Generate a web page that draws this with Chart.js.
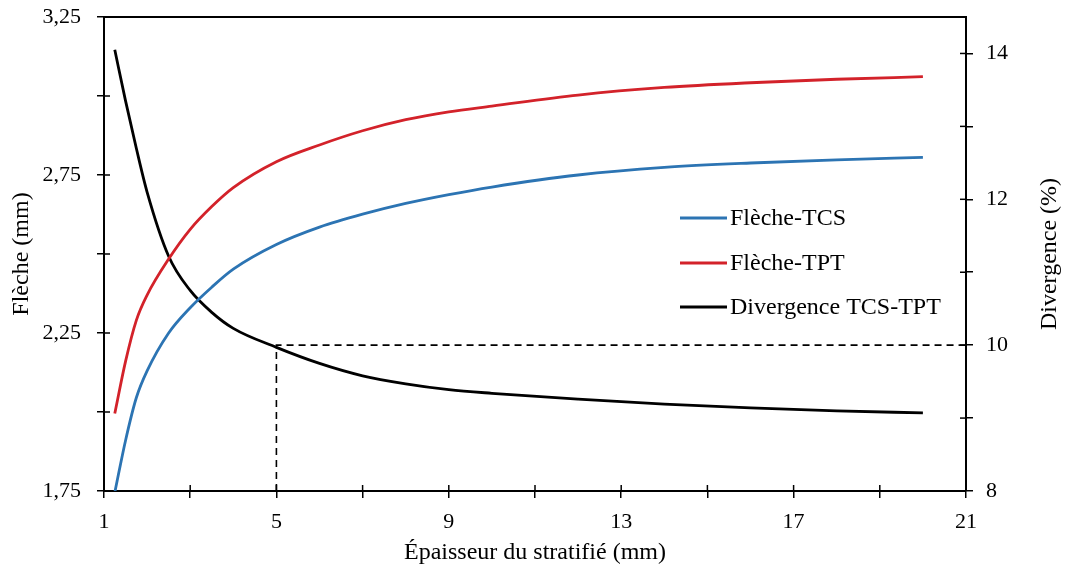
<!DOCTYPE html>
<html><head><meta charset="utf-8">
<script src="https://cdn.jsdelivr.net/npm/chart.js@4.4.1/dist/chart.umd.min.js"></script>
<style>html,body{margin:0;padding:0;background:#fff;}</style>
</head><body>
<canvas id="c" width="1068" height="570"></canvas>
<script>
// ---- data ----
const thickness  = [1.25, 1.5, 1.75, 2, 2.5, 3, 3.5, 4, 5, 6, 7, 8, 9, 10, 12, 14, 16, 18, 20];
const flecheTCS  = [1.745, 1.91, 2.045, 2.13, 2.25, 2.33, 2.395, 2.452, 2.53, 2.585, 2.626, 2.66, 2.688, 2.712, 2.75, 2.774, 2.788, 2.798, 2.806];
const flecheTPT  = [1.995, 2.16, 2.29, 2.37, 2.484, 2.578, 2.65, 2.71, 2.792, 2.845, 2.89, 2.925, 2.95, 2.968, 3.003, 3.027, 3.042, 3.053, 3.061];
const divergence = [14.05, 13.35, 12.7, 12.1, 11.22, 10.75, 10.45, 10.23, 9.97, 9.75, 9.58, 9.47, 9.39, 9.34, 9.26, 9.19, 9.14, 9.10, 9.07];
const refLineX = [5, 5, 21];
const refLineY = [8, 10, 10];

const seriesNames = ['Flèche-TCS', 'Flèche-TPT', 'Divergence TCS-TPT'];
const xTitle = 'Épaisseur du stratifié (mm)';
const yLeftTitle = 'Flèche (mm)';
const yRightTitle = 'Divergence (%)';

const xTicks = [1, 3, 5, 7, 9, 11, 13, 15, 17, 19, 21];
const xTickLabels = ['1', '', '5', '', '9', '', '13', '', '17', '', '21'];
const leftTicks = [1.75, 2, 2.25, 2.5, 2.75, 3, 3.25];
const leftTickLabels = ['1,75', '', '2,25', '', '2,75', '', '3,25'];
const rightTicks = [8, 9, 10, 11, 12, 13, 14];
const rightTickLabels = ['8', '', '10', '', '12', '', '14'];

// ---- styles ----
const FONT = 'Liberation Serif, Times New Roman, serif';
const BLUE = '#2c74b3', RED = '#d3222a', BLACK = '#000000';

const pts = (xs, ys) => xs.map((x, i) => ({x: x, y: ys[i]}));

const axisCommon = {
  grid: {drawOnChartArea: false, drawTicks: true, tickLength: 7, color: BLACK, lineWidth: 1.5},
  border: {display: true, color: BLACK, width: 2},
};

const crossTicks = {
  id: 'crossTicks',
  afterDraw(chart) {
    const ctx = chart.ctx, a = chart.chartArea;
    ctx.save();
    ctx.strokeStyle = BLACK; ctx.lineWidth = 1.5;
    chart.scales.x.ticks.forEach(t => {
      const px = chart.scales.x.getPixelForValue(t.value);
      ctx.beginPath(); ctx.moveTo(px, a.bottom); ctx.lineTo(px, a.bottom - 6); ctx.stroke();
    });
    chart.scales.y.ticks.forEach(t => {
      const py = chart.scales.y.getPixelForValue(t.value);
      ctx.beginPath(); ctx.moveTo(a.left, py); ctx.lineTo(a.left + 6, py); ctx.stroke();
    });
    chart.scales.y1.ticks.forEach(t => {
      const py = chart.scales.y1.getPixelForValue(t.value);
      ctx.beginPath(); ctx.moveTo(a.right, py); ctx.lineTo(a.right - 6, py); ctx.stroke();
    });
    ctx.lineWidth = 2;
    ctx.beginPath(); ctx.moveTo(a.left, a.top); ctx.lineTo(a.right, a.top); ctx.stroke();
    // right axis title (reads bottom-to-top)
    ctx.fillStyle = BLACK;
    ctx.font = '24px ' + FONT;
    ctx.textAlign = 'center'; ctx.textBaseline = 'middle';
    ctx.translate(1050, (a.top + a.bottom) / 2);
    ctx.rotate(-Math.PI / 2);
    ctx.fillText(yRightTitle, 0, 0);
    ctx.restore();
    // legend
    ctx.save();
    ctx.font = '24px ' + FONT;
    ctx.textAlign = 'left'; ctx.textBaseline = 'middle';
    const rows = [218, 263, 307];
    for (let i = 0; i < 3; i++) {
      const ds = chart.data.datasets[i];
      ctx.strokeStyle = ds.borderColor; ctx.lineWidth = 3;
      ctx.beginPath(); ctx.moveTo(680, rows[i]); ctx.lineTo(727, rows[i]); ctx.stroke();
      ctx.fillStyle = BLACK;
      ctx.fillText(ds.label, 730, rows[i] + 1);
    }
    ctx.restore();
  }
};

new Chart(document.getElementById('c'), {
  type: 'line',
  data: {
    datasets: [
      {label: seriesNames[0], data: pts(thickness, flecheTCS), yAxisID: 'y', borderColor: BLUE, borderWidth: 2.8, pointRadius: 0, cubicInterpolationMode: 'monotone', fill: false},
      {label: seriesNames[1], data: pts(thickness, flecheTPT), yAxisID: 'y', borderColor: RED, borderWidth: 2.8, pointRadius: 0, cubicInterpolationMode: 'monotone', fill: false},
      {label: seriesNames[2], data: pts(thickness, divergence), yAxisID: 'y1', borderColor: BLACK, borderWidth: 2.8, pointRadius: 0, cubicInterpolationMode: 'monotone', fill: false},
      {label: 'ref', data: pts(refLineX, refLineY), yAxisID: 'y1', borderColor: BLACK, borderWidth: 1.6, borderDash: [7, 5], pointRadius: 0, tension: 0, fill: false}
    ]
  },
  options: {
    responsive: false,
    animation: false,
    devicePixelRatio: 1,
    layout: {padding: {top: 17, left: 0, right: 0, bottom: 0}},
    plugins: {legend: {display: false}, tooltip: {enabled: false}},
    scales: {
      x: Object.assign({}, axisCommon, {
        type: 'linear', position: 'bottom', min: 1, max: 21,
        afterBuildTicks: s => { s.ticks = xTicks.map(v => ({value: v})); },
        afterFit: s => { s.height = 79; s.paddingLeft = 0; s.paddingRight = 0; },
        ticks: {color: BLACK, font: {family: FONT, size: 22}, padding: 11, autoSkip: false, maxRotation: 0,
                callback: (v, i) => xTickLabels[i]},
        title: {display: true, text: xTitle, color: BLACK, font: {family: FONT, size: 24}, padding: {top: 0, bottom: 3}}
      }),
      y: Object.assign({}, axisCommon, {
        type: 'linear', position: 'left', min: 1.75, max: 3.25,
        afterBuildTicks: s => { s.ticks = leftTicks.map(v => ({value: v})); },
        afterFit: s => { s.width = 104; s.paddingTop = 0; s.paddingBottom = 0; },
        ticks: {color: BLACK, font: {family: FONT, size: 22}, padding: 16, autoSkip: false,
                callback: (v, i) => leftTickLabels[i]},
        title: {display: true, text: yLeftTitle, color: BLACK, font: {family: FONT, size: 24}, padding: {top: 7, bottom: 0}}
      }),
      y1: Object.assign({}, axisCommon, {
        type: 'linear', position: 'right', min: 8, max: 14.5,
        afterBuildTicks: s => { s.ticks = rightTicks.map(v => ({value: v})); },
        afterFit: s => { s.width = 102; s.paddingTop = 0; s.paddingBottom = 0; },
        ticks: {color: BLACK, font: {family: FONT, size: 22}, padding: 13, autoSkip: false,
                callback: (v, i) => rightTickLabels[i]},
        title: {display: false}
      })
    }
  },
  plugins: [crossTicks]
});
</script>
</body></html>
